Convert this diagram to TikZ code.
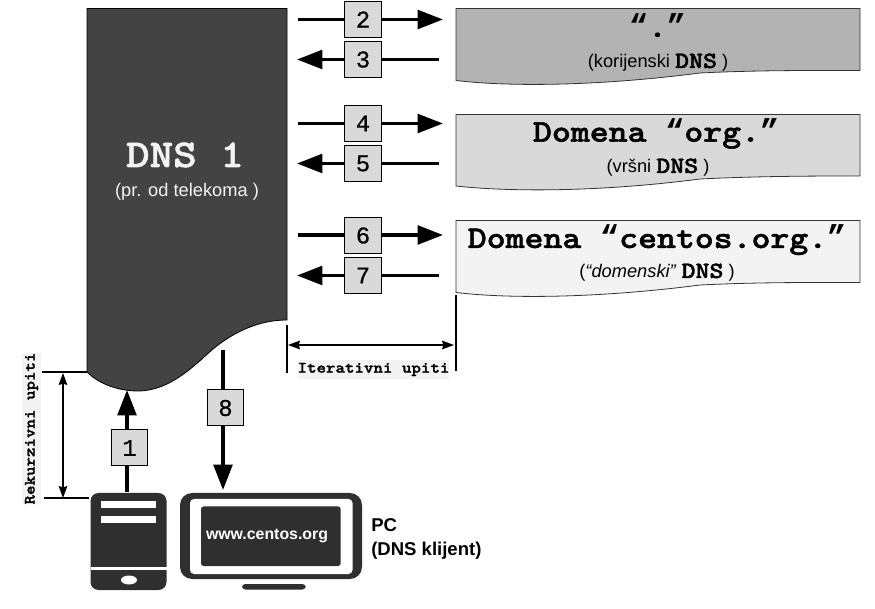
\documentclass[tikz,border=0pt]{standalone}
\usepackage{fontspec}
\setmainfont{Liberation Sans}
\setmonofont{Liberation Mono}
\newfontfamily\slabbase[FakeStretch=1.14,BoldFeatures={FakeStretch=1.14,FakeBold=1.5}]{Latin Modern Mono Light}
\newcommand{\slab}{\slabbase\bfseries}
\newfontfamily\numfont[FakeBold=0.6]{Liberation Mono}
\newfontfamily\quotefont{Liberation Mono}
\usetikzlibrary{arrows.meta}
\definecolor{dnsdark}{HTML}{434343}
\definecolor{icondark}{HTML}{2F2F2F}
\definecolor{rootgray}{HTML}{B3B3B3}
\definecolor{tldgray}{HTML}{D9D9D9}
\definecolor{domgray}{HTML}{F3F3F3}
\newcommand{\dnsmark}{{\slab\fontsize{17.5}{17.5}\selectfont DNS}}
\newcommand{\qopen}{{\quotefont\bfseries “}}
\newcommand{\qclose}{{\quotefont\bfseries ”}}
\tikzset{
  numbox/.style={draw=black,line width=0.75pt,fill=tldgray,minimum width=27.5pt,minimum height=27pt,inner sep=0pt,font=\numfont\fontsize{18}{18}\selectfont},
  query/.style={line width=2.6pt,-{Triangle[length=19pt,width=14pt]}},
  measure/.style={line width=0.9pt,{Stealth[length=9pt,width=6.5pt,inset=1pt]}-{Stealth[length=9pt,width=6.5pt,inset=1pt]}},
  tick/.style={line width=0.9pt},
  doc/.style={draw=black!80,line width=0.6pt},
  headtext/.style={anchor=base,inner sep=0pt,font=\slab\fontsize{23.7}{23.7}\selectfont},
  subtext/.style={anchor=base,inner sep=0pt,font=\fontsize{13.7}{13.7}\selectfont},
  caption/.style={fill=domgray,inner xsep=0pt,inner ysep=2.5pt,font=\slab\fontsize{11.9}{11.9}\selectfont},
}
\begin{document}
\begin{tikzpicture}[x=0.75pt,y=-0.75pt]
\useasboundingbox (0,0) rectangle (875,609);
% DNS 1 block
\draw[fill=dnsdark,draw=black,line width=0.6pt] (87,8.5) -- (287,8.5) -- (287,320)
  .. controls (260,320) and (235,331) .. (213,349)
  .. controls (195,365) and (170,391) .. (138,391)
  .. controls (120,391) and (100,385) .. (87,372) -- cycle;
\node[anchor=base,inner sep=0pt,text=domgray,font=\slab\fontsize{29.5}{29.5}\selectfont] (dnsname) at (185,167) {DNS 1};
\node[anchor=base,inner sep=0pt,text=domgray,font=\fontsize{13.7}{13.7}\selectfont] (dnssub) at (187,197) {(pr. od telekoma )};
% servers
\draw[doc,fill=rootgray] (456,8.5) -- (860,8.5) -- (860,70.5)
  .. controls (820,70.5) and (760,70) .. (700,73)
  .. controls (600,86) and (510,87) .. (456,80.5) -- cycle;
\draw[doc,fill=tldgray] (456,114.5) -- (860,114.5) -- (860,176)
  .. controls (820,176) and (760,176) .. (700,179)
  .. controls (600,192) and (510,192) .. (456,186) -- cycle;
\draw[doc,fill=domgray] (456,220.5) -- (860,220.5) -- (860,282.5)
  .. controls (820,282.5) and (760,282) .. (700,285)
  .. controls (600,298) and (510,299) .. (456,292.5) -- cycle;
\node[headtext] (roothead) at (657.5,37) {\qopen.\qclose};
\node[subtext] (rootsub) at (658,68) {(korijenski \dnsmark{} )};
\node[headtext] (tldhead) at (656,141.7) {Domena \qopen org.\qclose};
\node[subtext] (tldsub) at (658,173) {(vršni \dnsmark{} )};
\node[headtext] (domhead) at (657,248) {Domena \qopen centos.org.\qclose};
\node[subtext] (domsub) at (657,278) {(\textit{“domenski”} \dnsmark{} )};
% iterative query endpoints
\foreach \n/\yy/\xs/\xe in {2/19.5/298/443,3/59.5/438.5/297,4/123.5/298/443,5/163.5/438.5/297,6/235/298/443,7/275.5/438.5/297}{
  \coordinate (s\n) at (\xs,\yy);
  \coordinate (e\n) at (\xe,\yy);
  \draw[query] (s\n) -- (e\n);
}
\foreach \n/\yy in {2/19.5,3/59.5,4/123.5,5/163.5,6/235.5,7/275.5}{
  \node[numbox] (n\n) at (363,\yy) {\n};
}
% recursive queries
\coordinate (s1) at (127,492);
\coordinate (e1) at (127,390);
\coordinate (s8) at (223,350.5);
\coordinate (e8) at (223,490);
\draw[query] (s1) -- (e1);
\draw[query] (s8) -- (e8);
\node[numbox] (n1) at (129.5,448) {1};
\node[numbox] (n8) at (225.5,408) {8};
% iterative measure
\coordinate (t1a) at (287,325);
\coordinate (t1b) at (287,373);
\coordinate (t2a) at (456,295);
\coordinate (t2b) at (456,371);
\coordinate (ma) at (288,345);
\coordinate (mb) at (454,345);
\draw[tick] (t1a) -- (t1b);
\draw[tick] (t2a) -- (t2b);
\draw[measure] (ma) -- (mb);
\node[caption] (itercap) at (373.5,369.5) {Iterativni upiti};
% recursive measure
\coordinate (r1a) at (42,372);
\coordinate (r1b) at (87,372);
\coordinate (r2a) at (44,498);
\coordinate (r2b) at (89,498);
\coordinate (ra) at (63,373);
\coordinate (rb) at (63,498);
\draw[tick] (r1a) -- (r1b);
\draw[tick] (r2a) -- (r2b);
\draw[measure] (ra) -- (rb);
\node[caption,rotate=90] (reccap) at (31.5,428.5) {Rekurzivni upiti};
% server tower
\fill[icondark,rounded corners=6pt] (90.5,493) rectangle (166.5,590);
\fill[white] (101,501) rectangle (156,508);
\fill[white] (101,516) rectangle (156,523);
\fill[white] (90.5,567) rectangle (166.5,570);
\fill[white] (129,580) ellipse [x radius=8,y radius=4.5];
% monitor
\fill[icondark,rounded corners=9pt] (180,493) rectangle (362,579);
\fill[white,rounded corners=3pt] (190,499) rectangle (352.5,574);
\fill[icondark,rounded corners=2pt] (201,506.5) rectangle (340.7,566);
\fill[icondark,rounded corners=2.5pt] (242,584) rectangle (305.7,589.5);
\node[text=white,inner sep=0pt,font=\bfseries\fontsize{11.9}{11.9}\selectfont] (url) at (267,536) {www.centos.org};
\node[anchor=base west,inner sep=0pt,font=\bfseries\fontsize{13.9}{13.9}\selectfont] (pc) at (371,532) {PC};
\node[anchor=base west,inner sep=0pt,font=\bfseries\fontsize{13.9}{13.9}\selectfont] (pcsub) at (371,555) {(DNS klijent)};
\end{tikzpicture}
\end{document}
